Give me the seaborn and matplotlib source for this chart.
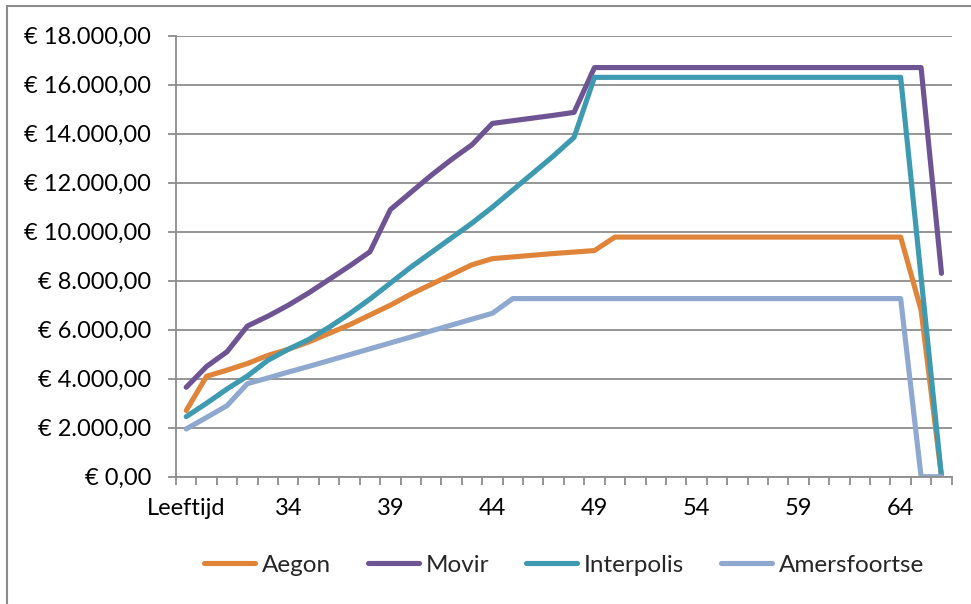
import matplotlib
matplotlib.use("Agg")
import matplotlib.pyplot as plt
import matplotlib.patches as patches
from matplotlib.ticker import FixedLocator, FuncFormatter
import numpy as np
import pandas as pd
import seaborn as sns

# categories on the x axis (first one is the header text that ended up in the data)
leeftijd = ["Leeftijd"] + [str(a) for a in range(30, 67)]

# yearly premium per insurer
aegon = [2700, 4100, 4350, 4620, 4950, 5200, 5500, 5850, 6200, 6600,
         7000, 7450, 7850, 8250, 8650, 8900, 8970, 9040, 9110, 9170,
         9230, 9780, 9780, 9780, 9780, 9780, 9780, 9780, 9780, 9780,
         9780, 9780, 9780, 9780, 9780, 9780, 6800, 0]
movir = [3650, 4500, 5100, 6150, 6550, 7000, 7500, 8050, 8600, 9180,
         10900, 11600, 12300, 12950, 13550, 14420, 14530, 14640, 14750, 14870,
         16700, 16700, 16700, 16700, 16700, 16700, 16700, 16700, 16700, 16700,
         16700, 16700, 16700, 16700, 16700, 16700, 16700, 8300]
interpolis = [2450, 3000, 3580, 4110, 4750, 5200, 5600, 6100, 6650, 7250,
              7900, 8550, 9150, 9750, 10350, 11000, 11700, 12400, 13100, 13850,
              16300, 16300, 16300, 16300, 16300, 16300, 16300, 16300, 16300, 16300,
              16300, 16300, 16300, 16300, 16300, 16300, 8150, 0]
amersfoortse = [1950, 2420, 2900, 3800, 4030, 4270, 4500, 4740, 4980, 5220,
                5460, 5700, 5950, 6190, 6430, 6670, 7270, 7270, 7270, 7270,
                7270, 7270, 7270, 7270, 7270, 7270, 7270, 7270, 7270, 7270,
                7270, 7270, 7270, 7270, 7270, 7270, 0, 0]

namen = ["Aegon", "Movir", "Interpolis", "Amersfoortse"]
kleuren = ["#E0843A", "#6F5494", "#3E9AB1", "#8EA8CF"]

rows = []
for naam, waarden in zip(namen, [aegon, movir, interpolis, amersfoortse]):
    for i, w in enumerate(waarden):
        rows.append({"pos": i, "premie": w, "verzekeraar": naam})
df = pd.DataFrame(rows)

sns.set_style("white")
plt.rcParams["font.family"] = ["Lato", "DejaVu Sans"]

fig = plt.figure(figsize=(9.71, 6.04), dpi=100)
ax = fig.add_axes([176 / 971, 1 - 476.7 / 604, (951.7 - 176) / 971, (476.7 - 35.7) / 604])

sns.lineplot(data=df, x="pos", y="premie", hue="verzekeraar", hue_order=namen,
             palette=kleuren, linewidth=3.7, ax=ax, legend=False,
             solid_capstyle="round", solid_joinstyle="round")

ax.set_xlim(-0.5, len(leeftijd) - 0.5)
ax.set_ylim(0, 18000)

# y axis: euro notation, dutch separators
def euro(v, pos):
    s = "{:,.2f}".format(v).replace(",", "X").replace(".", ",").replace("X", ".")
    return "€ " + s

ax.yaxis.set_major_locator(FixedLocator(np.arange(0, 18001, 2000)))
ax.yaxis.set_major_formatter(FuncFormatter(euro))
ax.grid(axis="y", color="#8C8C8C", linewidth=1.3)
ax.set_axisbelow(True)

# x axis: tick marks between categories, labels every 5th category
ax.xaxis.set_major_locator(FixedLocator(np.arange(-0.5, len(leeftijd), 1)))
ax.xaxis.set_major_formatter(FuncFormatter(lambda v, p: ""))
ax.xaxis.set_minor_locator(FixedLocator(np.arange(0, len(leeftijd), 5)))
ax.xaxis.set_minor_formatter(FuncFormatter(lambda v, p: leeftijd[int(round(v))]))

ax.tick_params(axis="x", which="major", direction="out", length=6, width=1.3,
               color="#8C8C8C", bottom=True)
ax.tick_params(axis="x", which="minor", length=0, pad=15, labelsize=17, labelcolor="black")
ax.tick_params(axis="y", direction="out", length=6, width=1.3, color="#8C8C8C",
               left=True, pad=12, labelsize=17, labelcolor="black")

ax.set_xlabel("")
ax.set_ylabel("")
for kant in ["top", "right"]:
    ax.spines[kant].set_visible(False)
for kant in ["left", "bottom"]:
    ax.spines[kant].set_color("#8C8C8C")
    ax.spines[kant].set_linewidth(1.3)

handles = [plt.Line2D([], [], color=k, linewidth=3.7, solid_capstyle="round") for k in kleuren]
fig.legend(handles, namen, loc="center", bbox_to_anchor=(564 / 971, 1 - 565 / 604),
           ncol=4, frameon=False, fontsize=17.5, handlelength=2.1, handletextpad=0.3,
           columnspacing=1.5)

# chart area border (only top and left are inside the picture)
fig.add_artist(patches.Rectangle((7 / 971, -0.5), 2, 0.5 + 1 - 6 / 604,
                                 transform=fig.transFigure, fill=False,
                                 edgecolor="#8C8C8C", linewidth=1.5))

fig.savefig("out.png", dpi=100)
